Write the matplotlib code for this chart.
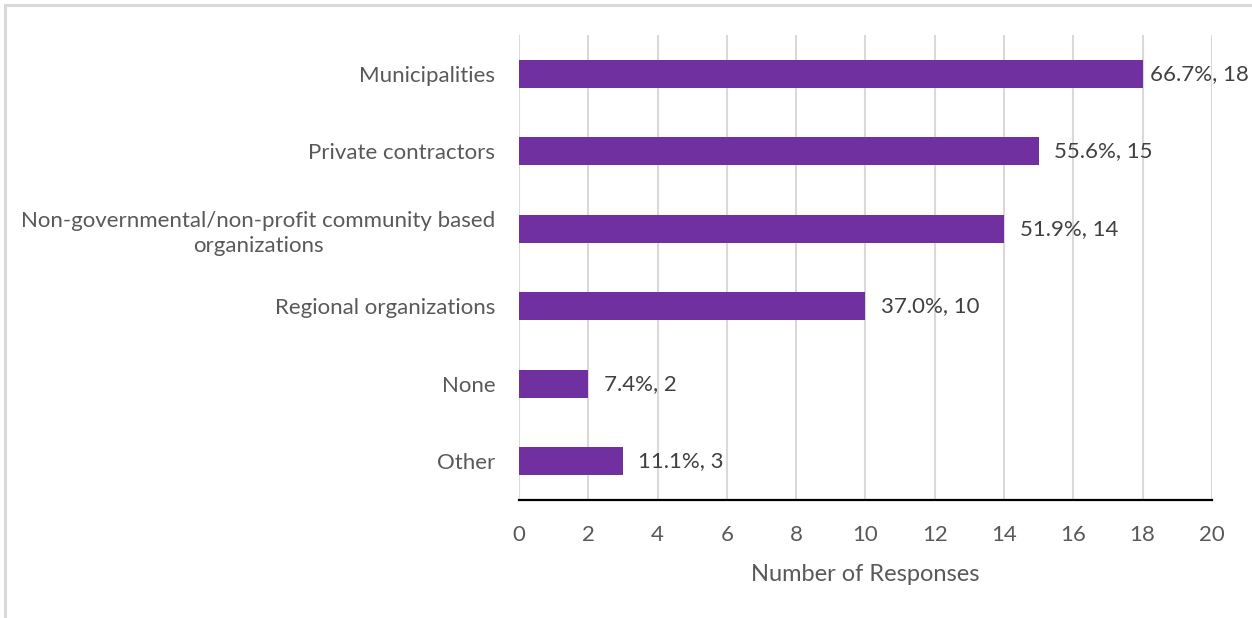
import matplotlib.pyplot as plt
from matplotlib.patches import Rectangle

categories = ["Municipalities", "Private contractors",
              "Non-governmental/non-profit community based\norganizations",
              "Regional organizations", "None", "Other"]
responses = [18, 15, 14, 10, 2, 3]
percents = [66.7, 55.6, 51.9, 37.0, 7.4, 11.1]
xticks = [0, 2, 4, 6, 8, 10, 12, 14, 16, 18, 20]

plt.rcParams['font.family'] = ['Lato', 'DejaVu Sans']

fig = plt.figure(figsize=(12.52, 6.18), dpi=100)
ax = fig.add_axes([0.4145, 0.191, 0.5535, 0.752])

# light frame around the chart area
fig.patches.append(Rectangle((5 / 1252, -0.1), 1.2, 1 - 5 / 618 + 0.1,
                             transform=fig.transFigure, fill=False,
                             edgecolor='#d9d9d9', linewidth=2.2))

pos = list(range(len(categories)))
ax.barh(pos, responses, height=0.36, color='#7030a0', zorder=3)
for p, v, pc in zip(pos, responses, percents):
    # the longest bar's label is pulled in so it stays inside the frame
    gap = 0.45 if v < 18 else 0.2
    ax.text(v + gap, p, "{:.1f}%, {}".format(pc, v), va='center', ha='left',
            fontsize=16, color='#404040')

ax.set_ylim(len(categories) - 0.5, -0.5)
ax.set_xlim(0, 20)
ax.set_xticks(xticks)
ax.set_yticks(pos)
ax.set_yticklabels(categories, multialignment='center', linespacing=1.35)
ax.tick_params(axis='y', length=0, pad=17, labelsize=16, labelcolor='#595959')
ax.tick_params(axis='x', length=0, pad=18, labelsize=16, labelcolor='#595959')
ax.grid(axis='x', color='#d9d9d9', linewidth=1.5, zorder=0)
for s in ['top', 'right', 'left']:
    ax.spines[s].set_visible(False)
ax.spines['bottom'].set_color('black')
ax.spines['bottom'].set_linewidth(1.6)
ax.set_xlabel("Number of Responses", fontsize=17, color='#595959', labelpad=14)

fig.savefig("out.png", dpi=100)
